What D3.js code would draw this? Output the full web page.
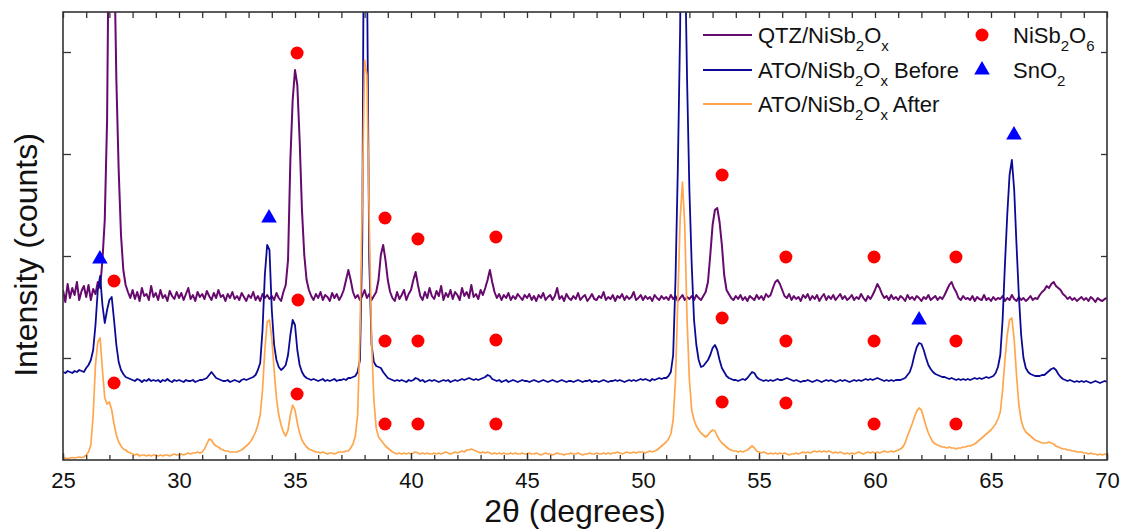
<!DOCTYPE html>
<html>
<head>
<meta charset="utf-8">
<script src="https://cdn.jsdelivr.net/npm/d3@7"></script>
<style>
  body { margin: 0; background: #fff; }
  svg { display: block; }
  text { font-family: "Liberation Sans", Arial, Helvetica, sans-serif; fill: #111; }
</style>
</head>
<body>
<svg id="chart" width="1122" height="529"></svg>
<script>
// XRD scan: 2θ from 25° to 70° in 0.1° steps
const scanStart = 25, scanStep = 0.1, scanPoints = 451;

// QTZ/NiSb2Ox intensity (counts)
const qtzCounts = [
  1700,1580,1760,1620,1720,1650,1780,1600,1690,1740,
  1630,1750,1600,1710,1660,1780,1720,2000,2400,3400,
  6000,7500,5200,3800,2900,2250,1900,1750,1680,1620,
  1700,1610,1680,1590,1720,1640,1660,1600,1740,1630,
  1670,1600,1700,1620,1650,1590,1690,1640,1610,1680,
  1620,1670,1600,1660,1720,1610,1650,1590,1680,1630,
  1660,1610,1690,1640,1600,1670,1620,1700,1630,1650,
  1590,1660,1620,1680,1610,1640,1600,1670,1630,1590,
  1650,1620,1680,1600,1640,1590,1660,1620,1650,1610,
  1640,1600,1670,1620,1590,1680,1750,2000,3000,3600,
  3900,3750,3200,2500,2050,1800,1700,1640,1600,1660,
  1620,1680,1600,1650,1630,1590,1670,1620,1660,1600,
  1640,1700,1800,1900,1800,1680,1620,1650,1600,1640,
  1700,1620,1660,1600,1640,1680,1800,2050,2150,2000,
  1800,1680,1620,1590,1680,1610,1650,1700,1600,1660,
  1700,1800,1880,1750,1640,1600,1680,1620,1720,1640,
  1610,1690,1640,1740,1600,1670,1630,1700,1610,1680,
  1650,1600,1720,1640,1680,1620,1750,1630,1660,1610,
  1700,1650,1720,1800,1900,1780,1680,1620,1660,1600,
  1650,1620,1670,1600,1640,1610,1660,1630,1600,1650,
  1620,1660,1600,1640,1590,1650,1620,1670,1600,1630,
  1650,1600,1640,1720,1610,1640,1590,1660,1620,1600,
  1640,1610,1670,1600,1630,1650,1590,1620,1660,1610,
  1600,1640,1620,1680,1600,1630,1610,1650,1590,1640,
  1620,1660,1600,1640,1610,1630,1680,1600,1620,1650,
  1600,1640,1610,1630,1590,1650,1620,1600,1640,1610,
  1630,1600,1650,1610,1640,1590,1620,1650,1600,1630,
  1610,1640,1600,1650,1620,1600,1640,1680,1780,2050,
  2350,2500,2520,2380,2150,1850,1700,1660,1620,1600,
  1640,1610,1650,1600,1630,1590,1640,1620,1600,1650,
  1610,1640,1600,1660,1630,1650,1720,1780,1800,1760,
  1700,1640,1620,1660,1600,1640,1610,1630,1590,1650,
  1620,1660,1600,1640,1610,1650,1590,1630,1660,1600,
  1640,1610,1650,1600,1630,1660,1610,1640,1600,1620,
  1650,1600,1630,1610,1660,1620,1590,1640,1610,1650,
  1700,1760,1720,1660,1620,1640,1600,1650,1610,1630,
  1600,1640,1620,1590,1650,1610,1630,1600,1640,1620,
  1590,1630,1610,1650,1600,1620,1640,1600,1630,1610,
  1650,1700,1750,1780,1720,1680,1620,1600,1640,1610,
  1620,1600,1640,1590,1630,1610,1600,1650,1600,1620,
  1590,1630,1600,1620,1610,1640,1590,1620,1600,1650,
  1610,1590,1630,1600,1620,1590,1610,1640,1600,1620,
  1610,1650,1680,1700,1740,1720,1760,1780,1740,1720,
  1700,1660,1640,1610,1630,1600,1620,1590,1610,1630,
  1600,1620,1590,1630,1610,1580,1620,1600,1590,1610,
  1620
];

// ATO/NiSb2Ox before intensity (counts)
const atoBeforeCounts = [
  880,870,890,880,870,890,880,900,890,880,
  920,950,1000,1100,1350,1700,1840,1550,1370,1500,
  1600,1630,1400,1150,980,900,860,830,820,810,
  800,790,810,800,780,800,790,810,790,800,
  790,800,780,800,790,810,790,780,800,790,
  800,790,780,800,790,790,800,780,790,800,
  800,810,820,850,880,850,820,810,800,790,
  790,800,780,790,800,790,780,800,810,800,
  810,820,830,850,900,970,1300,1850,2150,2100,
  1500,1150,1000,930,900,920,950,1050,1250,1400,
  1350,1100,950,880,840,820,810,800,810,800,
  790,800,810,790,800,790,800,810,790,800,
  800,810,800,820,820,830,840,880,1000,2200,
  7000,5000,2000,1150,980,940,930,920,880,850,
  820,810,800,790,800,790,800,790,780,800,
  790,800,820,810,790,800,780,790,800,790,
  800,790,780,790,800,790,800,780,790,800,
  790,800,810,800,810,820,810,800,810,800,
  810,820,830,850,840,810,800,790,800,780,
  790,800,780,790,800,790,780,790,800,790,
  790,780,790,800,790,780,790,800,790,780,
  790,800,790,780,790,800,790,780,790,790,
  780,790,800,790,780,790,790,800,780,790,
  790,780,790,800,790,780,790,790,800,790,
  800,790,780,790,800,790,800,790,800,810,
  800,810,800,790,810,800,810,820,810,820,
  820,840,880,1050,1800,2900,4300,7000,5200,3800,
  2700,1950,1400,1150,1000,930,940,970,1000,1050,
  1120,1150,1100,1000,920,880,840,820,810,800,
  800,790,800,810,800,820,850,880,870,830,
  810,800,790,800,790,800,790,800,810,800,
  800,810,820,810,800,790,800,790,780,790,
  790,800,790,780,790,800,790,780,790,800,
  790,800,790,780,790,800,790,800,790,780,
  790,800,790,800,790,800,810,800,810,800,
  810,820,810,800,790,800,790,800,790,800,
  800,800,810,820,850,880,950,1050,1130,1170,
  1160,1100,1020,950,910,880,860,850,840,830,
  830,820,810,820,810,800,810,800,810,800,
  810,800,810,820,810,820,810,820,830,820,
  830,840,870,930,1050,1400,1950,2450,2850,3000,
  2700,2150,1650,1250,1020,920,880,860,850,840,
  840,840,850,850,870,890,910,920,900,860,
  830,810,800,790,800,790,780,790,780,790,
  780,790,780,770,780,790,780,770,780,790,
  780
];

// ATO/NiSb2Ox after intensity (counts)
const atoAfterCounts = [
  10,20,15,20,25,20,25,30,25,30,
  50,80,150,450,950,1180,1220,900,620,560,
  580,500,360,250,180,140,110,100,80,70,
  60,50,60,40,50,50,40,50,40,50,
  50,40,50,40,50,50,40,50,60,50,
  50,60,50,60,70,60,70,70,80,70,
  80,110,160,210,200,160,140,130,110,100,
  90,90,80,80,80,80,90,100,120,140,
  160,190,230,280,350,450,700,1100,1380,1400,
  1220,900,620,450,350,280,240,300,450,550,
  500,370,270,200,160,130,110,100,90,80,
  80,70,80,70,60,70,70,60,70,80,
  80,80,90,90,120,160,240,450,1250,2600,
  4000,3850,2400,1200,600,320,230,200,170,140,
  120,100,80,70,60,70,60,70,60,70,
  60,70,80,70,60,70,60,70,60,60,
  70,60,70,60,70,80,70,60,70,80,
  70,80,90,80,100,100,110,100,90,80,
  70,80,70,80,70,60,70,60,70,60,
  70,60,60,70,60,70,60,60,70,60,
  60,70,60,60,70,60,50,60,70,60,
  60,50,60,70,60,60,50,60,60,70,
  60,60,70,60,50,60,60,70,60,60,
  70,60,60,70,60,70,60,70,70,80,
  70,60,70,80,70,70,80,70,80,80,
  80,70,80,90,80,90,100,120,140,160,
  180,210,260,400,800,1600,2400,2780,2350,1400,
  800,500,400,340,300,270,250,230,250,280,
  300,290,240,200,170,150,130,110,100,90,
  90,80,90,80,90,100,120,140,120,90,
  80,70,80,70,60,70,60,70,60,70,
  60,70,60,50,60,60,70,60,70,80,
  70,80,70,80,90,80,90,80,90,80,
  90,80,70,80,70,80,70,60,70,60,
  70,60,70,80,70,60,70,80,70,80,
  70,80,70,80,90,80,80,90,80,90,
  100,110,130,170,240,300,360,430,490,520,
  500,420,340,270,220,180,160,150,140,130,
  130,120,130,120,120,110,120,120,130,130,
  140,140,150,160,180,200,220,240,260,280,
  300,330,360,410,480,700,1000,1250,1400,1420,
  1200,850,550,400,320,280,260,240,220,200,
  190,180,170,170,170,180,170,160,140,130,
  120,110,110,100,100,90,90,80,80,80,
  70,70,60,70,60,60,50,60,50,60,
  50
];

// Phase reflections marked above each pattern: [2θ, counts]
const nisb2o6Marks = [
  [35.09,4070],[38.88,2420],[40.30,2210],[43.66,2230],[53.41,2850],
  [56.16,2030],[59.96,2030],[63.49,2030],
  [27.20,1790],[35.13,1600],[38.88,1190],[40.30,1190],[43.66,1200],
  [53.41,1420],[56.16,1190],[59.96,1190],[63.49,1190],
  [27.20,770],[35.09,660],[38.88,360],[40.30,360],[43.66,360],
  [53.41,580],[56.16,570],[59.96,360],[63.49,360]
];
const sno2Marks = [[26.59,2010],[33.88,2420],[61.90,1400],[65.99,3250]];

const xMajorTicks = [25, 30, 35, 40, 45, 50, 55, 60, 65, 70];
const yTickCounts = [1020, 2040, 3060, 4080];

const seriesNames = ["QTZ/NiSb_2O_x", "ATO/NiSb_2O_x Before", "ATO/NiSb_2O_x After"];
const seriesColors = ["#660a6e", "#0a0a96", "#ffa64d"];
const seriesWidths = [2, 1.8, 1.7];
const phaseNames = ["NiSb_2O_6", "SnO_2"];

const twoTheta = d3.range(scanPoints).map(i => +(scanStart + i * scanStep).toFixed(1));

const svg = d3.select("#chart");
const plotLeft = 63, plotRight = 1107, plotTop = 12, plotBottom = 460;

const x = d3.scaleLinear().domain([25, 70]).range([plotLeft, plotRight]);
const y = d3.scaleLinear().domain([0, 4480]).range([plotBottom, plotTop]);

svg.append("defs").append("clipPath").attr("id", "plotClip")
  .append("rect").attr("x", plotLeft).attr("y", plotTop)
  .attr("width", plotRight - plotLeft).attr("height", plotBottom - plotTop);

// patterns
const line = d3.line().x((d, i) => x(twoTheta[i])).y(d => y(d));
const plot = svg.append("g").attr("clip-path", "url(#plotClip)");
[qtzCounts, atoBeforeCounts, atoAfterCounts].forEach((vals, k) => {
  plot.append("path").datum(vals)
    .attr("fill", "none")
    .attr("stroke", seriesColors[k])
    .attr("stroke-width", seriesWidths[k])
    .attr("stroke-linejoin", "round")
    .attr("d", line);
});

// reflection markers
const circleColor = "#ff0000", triColor = "#0000ff";
svg.append("g").selectAll("circle").data(nisb2o6Marks).join("circle")
  .attr("cx", d => x(d[0])).attr("cy", d => y(d[1])).attr("r", 6.5)
  .attr("fill", circleColor);
const tri = d3.symbol().type(d3.symbolTriangle).size(105);
svg.append("g").selectAll("path").data(sno2Marks).join("path")
  .attr("transform", d => `translate(${x(d[0])},${y(d[1])})`)
  .attr("d", tri).attr("fill", triColor);

// axes: ticks point into the frame
function styleAxis(g) {
  g.select(".domain").remove();
  g.selectAll(".tick line").attr("stroke", "#333").attr("stroke-width", 1.3);
}
function dropLabels(g) { g.selectAll(".tick text").remove(); }
const minorTicks = d3.range(25, 71, 1);
svg.append("g").attr("transform", `translate(0,${plotBottom})`)
  .call(d3.axisBottom(x).tickValues(minorTicks).tickSize(-5))
  .call(styleAxis).call(dropLabels);
svg.append("g").attr("transform", `translate(0,${plotBottom})`)
  .call(d3.axisBottom(x).tickValues(xMajorTicks).tickSize(-7).tickPadding(12).tickFormat(d3.format("d")))
  .call(styleAxis)
  .call(g => g.selectAll("text").attr("font-size", 22).attr("fill", "#111")
    .style("font-family", '"Liberation Sans", Arial, sans-serif'));
svg.append("g").attr("transform", `translate(0,${plotTop})`)
  .call(d3.axisTop(x).tickValues(minorTicks).tickSize(-6))
  .call(styleAxis).call(dropLabels);
svg.append("g").attr("transform", `translate(${plotLeft},0)`)
  .call(d3.axisLeft(y).tickValues(yTickCounts).tickSize(-8))
  .call(styleAxis).call(dropLabels);
svg.append("g").attr("transform", `translate(${plotRight},0)`)
  .call(d3.axisRight(y).tickValues(yTickCounts).tickSize(-6))
  .call(styleAxis).call(dropLabels);

svg.append("rect").attr("x", plotLeft).attr("y", plotTop)
  .attr("width", plotRight - plotLeft).attr("height", plotBottom - plotTop)
  .attr("fill", "none").attr("stroke", "#333").attr("stroke-width", 1.6);

// axis titles
svg.append("text").attr("x", 575).attr("y", 522).attr("text-anchor", "middle")
  .attr("font-size", 32).text("2θ (degrees)");
svg.append("text").attr("transform", "translate(37,255) rotate(-90)")
  .attr("text-anchor", "middle").attr("font-size", 32).text("Intensity (counts)");

// text with "_n" subscripts: the subscript drops, the following run returns to the baseline
function richText(sel, label, size, subSize) {
  const parts = label.split(/(_\w)/).filter(p => p);
  let lowered = false;
  parts.forEach(p => {
    if (p.startsWith("_")) {
      sel.append("tspan").attr("font-size", subSize).attr("dy", lowered ? 0 : 8).text(p.slice(1));
      lowered = true;
    } else {
      sel.append("tspan").attr("font-size", size).attr("dy", lowered ? -8 : 0).text(p);
      lowered = false;
    }
  });
}

// legend
const legendRows = [35, 70, 104];
const lg = svg.append("g");
seriesNames.forEach((name, i) => {
  lg.append("line").attr("x1", 703).attr("x2", 752)
    .attr("y1", legendRows[i]).attr("y2", legendRows[i])
    .attr("stroke", seriesColors[i]).attr("stroke-width", 2);
  richText(lg.append("text").attr("x", 758).attr("y", legendRows[i] + 8), name, 22, 15);
});
lg.append("circle").attr("cx", 982).attr("cy", legendRows[0]).attr("r", 6.5).attr("fill", circleColor);
lg.append("path").attr("transform", `translate(982,${legendRows[1]})`).attr("d", tri).attr("fill", triColor);
phaseNames.forEach((name, i) => {
  richText(lg.append("text").attr("x", 1013).attr("y", legendRows[i] + 8), name, 22, 15);
});
</script>
</body>
</html>
